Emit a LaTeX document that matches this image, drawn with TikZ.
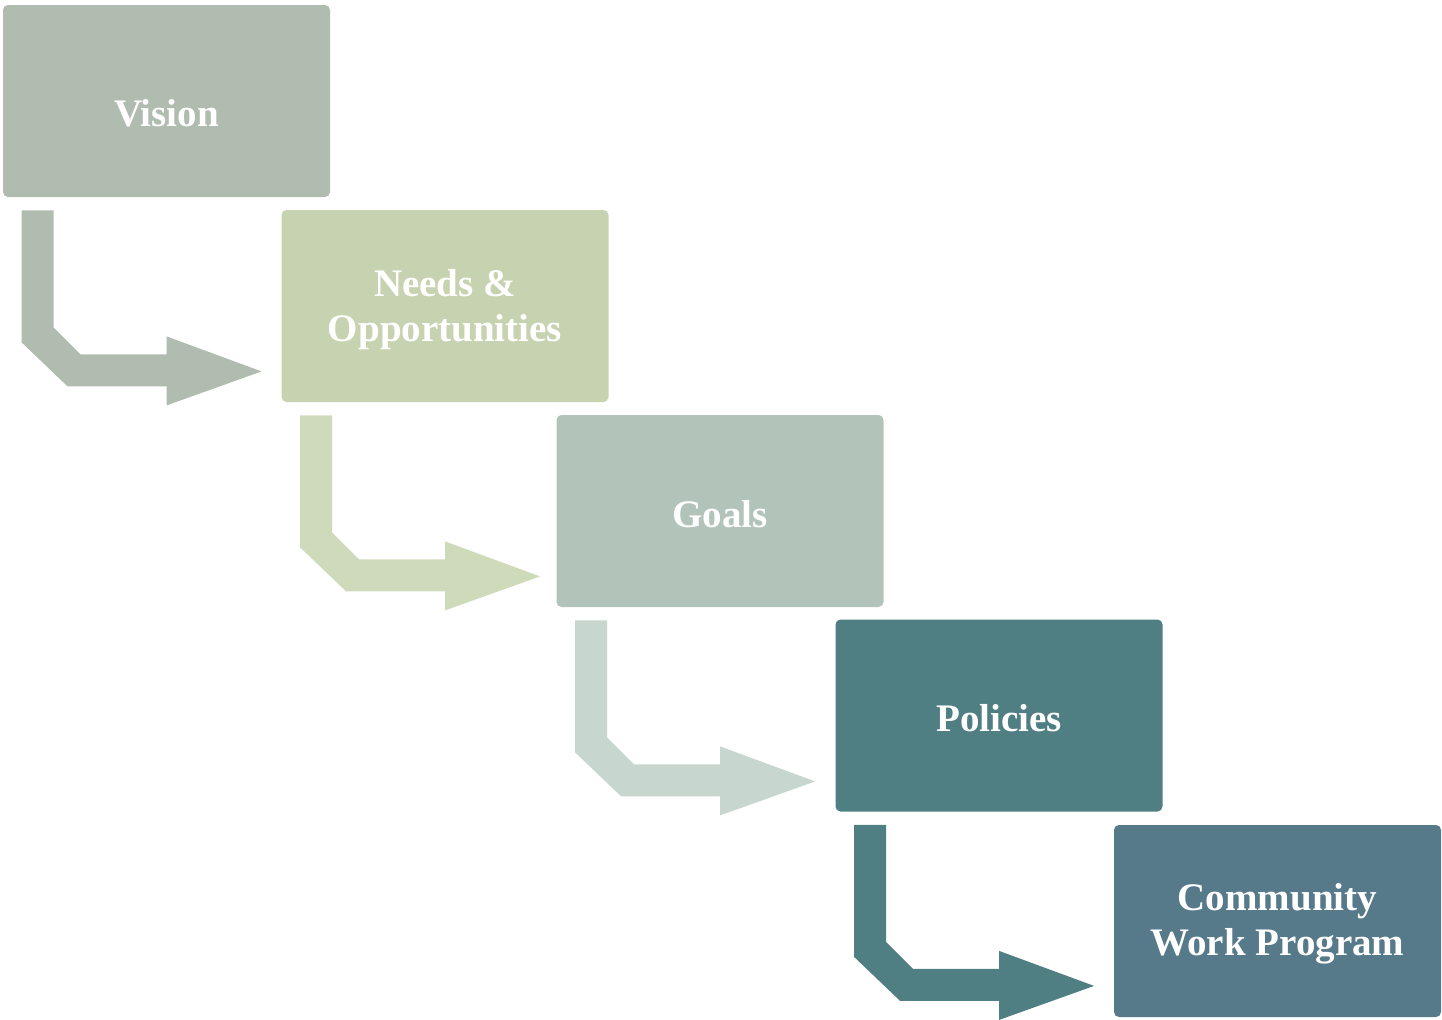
\documentclass[tikz,border=0pt]{standalone}
\usepackage{fontspec}
\setmainfont{Liberation Serif}
\usetikzlibrary{calc}

\definecolor{visiongray}{HTML}{B0BCB0}
\definecolor{needsgreen}{HTML}{C7D3B0}
\definecolor{needsarrow}{HTML}{CFDABB}
\definecolor{goalsgray}{HTML}{B2C4B9}
\definecolor{goalsarrow}{HTML}{C7D6CE}
\definecolor{policyteal}{HTML}{507F83}
\definecolor{programblue}{HTML}{577A8A}

\tikzset{
  stage/.style={rectangle,rounded corners=2.5pt,minimum width=163.5pt,minimum height=96pt,
    inner sep=0pt,align=center,text=white,font=\bfseries\fontsize{19.5}{22.5}\selectfont},
  label/.style={text=white,align=center,font=\bfseries\fontsize{19.5}{22.5}\selectfont}
}

\begin{document}
\begin{tikzpicture}[x=0.5pt,y=-0.5pt]
        \useasboundingbox (0,0) rectangle (1442,1019);
        \node at (166.5,101) [stage,fill=visiongray] (b1) {};
        \node at (445,306) [stage,fill=needsgreen] (b2) {};
        \node at (720,511) [stage,fill=goalsgray] (b3) {};
        \node at (999,715.5) [stage,fill=policyteal] (b4) {};
        \node at (1277.5,921) [stage,fill=programblue] (b5) {};
        \node at ($(b1)+(0,12)$) [label] (t1) {Vision};
        \node at ($(b2)+(0,4)$) [label] (t2) {Needs \&\\Opportunities};
        \node at ($(b3)+(0,3)$) [label] (t3) {Goals};
        \node at ($(b4)+(0,3)$) [label] (t4) {Policies};
        \node at ($(b5)+(0,3)$) [label] (t5) {Community\\Work Program};
        % bent arrows down and across to the next stage
        \fill[visiongray] ($(b1.south west)+(19,13)$) -- ++(32,0) -- ++(0,117) -- ++(27,27)
            -- ++(86,0) -- ++(0,-18) -- ++(95,35) -- ++(-95,34) -- ++(0,-19) -- ++(-99,0)
            -- ++(-46,-44) -- cycle;
        \fill[needsarrow] ($(b2.south west)+(19,13)$) -- ++(32,0) -- ++(0,117) -- ++(27,27)
            -- ++(86,0) -- ++(0,-18) -- ++(95,35) -- ++(-95,34) -- ++(0,-19) -- ++(-99,0)
            -- ++(-46,-44) -- cycle;
        \fill[goalsarrow] ($(b3.south west)+(19,13)$) -- ++(32,0) -- ++(0,117) -- ++(27,27)
            -- ++(86,0) -- ++(0,-18) -- ++(95,35) -- ++(-95,34) -- ++(0,-19) -- ++(-99,0)
            -- ++(-46,-44) -- cycle;
        \fill[policyteal] ($(b4.south west)+(19,13)$) -- ++(32,0) -- ++(0,117) -- ++(27,27)
            -- ++(86,0) -- ++(0,-18) -- ++(95,35) -- ++(-95,34) -- ++(0,-19) -- ++(-99,0)
            -- ++(-46,-44) -- cycle;
\end{tikzpicture}
\end{document}
